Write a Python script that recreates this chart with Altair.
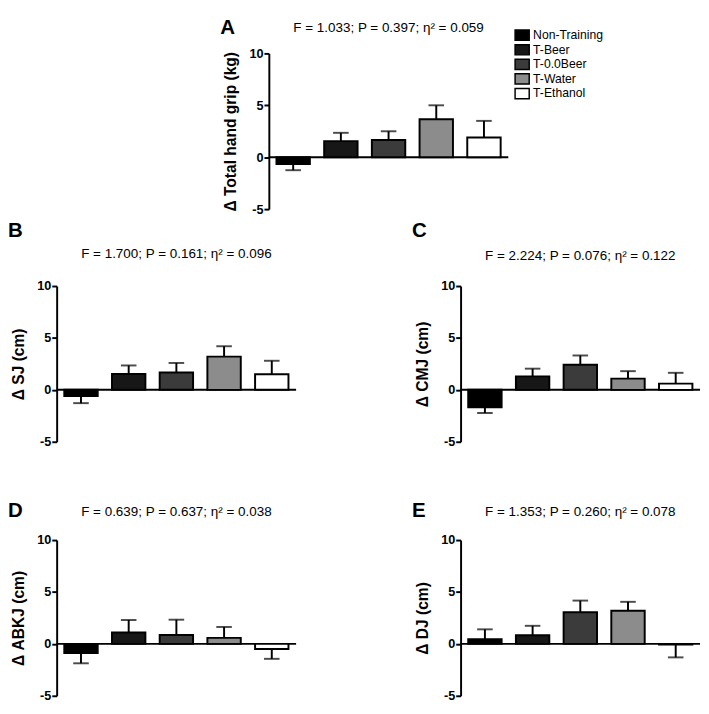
import altair as alt
import pandas as pd

groups = ["Non-Training", "T-Beer", "T-0.0Beer", "T-Water", "T-Ethanol"]
fills = ["#000000", "#171717", "#3b3b3b", "#8c8c8c", "#ffffff"]

# panel A: total hand grip
a_vals = [-0.65, 1.55, 1.65, 3.65, 1.9]
a_tips = [-1.25, 2.35, 2.5, 5.0, 3.5]
# panel B: SJ
b_vals = [-0.6, 1.52, 1.68, 3.2, 1.5]
b_tips = [-1.28, 2.35, 2.59, 4.2, 2.8]
# panel C: CMJ
c_vals = [-1.67, 1.3, 2.41, 1.08, 0.6]
c_tips = [-2.23, 2.04, 3.31, 1.8, 1.64]
# panel D: ABKJ
d_vals = [-0.89, 1.1, 0.86, 0.58, -0.49]
d_tips = [-1.87, 2.3, 2.33, 1.63, -1.44]
# panel E: DJ
e_vals = [0.44, 0.84, 3.05, 3.2, -0.05]
e_tips = [1.4, 1.74, 4.17, 4.05, -1.3]

y_ticks = [-5, 0, 5, 10]

W = 246
H = 160
FONT = "Liberation Sans"


def panel(vals, tips, ytitle, letter, stat, legend=None):
    df = pd.DataFrame({"group": groups, "val": vals, "tip": tips})
    base = alt.Chart(df)
    ys = alt.Scale(domain=[-5, 10], nice=False, zero=False)
    yaxis = alt.Axis(
        title=ytitle, values=y_ticks, grid=False, labelExpr="'' + datum.value",
        domainColor="black", domainWidth=2, tickColor="black", tickWidth=2,
        tickSize=5, labelPadding=1, labelFont=FONT, labelFontSize=13,
        labelFontWeight="bold", labelColor="black", titleFont=FONT,
        titleFontSize=16, titleFontWeight="bold", titleColor="black",
        titlePadding=11,
    )
    xs = alt.X("group:N", sort=groups, axis=None,
               scale=alt.Scale(paddingInner=0.3, paddingOuter=0.16))
    zero = alt.Chart(pd.DataFrame({"z": [0]})).mark_rule(
        color="black", strokeWidth=2
    ).encode(y=alt.Y("z:Q", scale=ys, axis=yaxis), x=alt.value(0), x2=alt.value(W))
    err = base.mark_rule(color="black", strokeWidth=2).encode(
        x=xs, y=alt.Y("val:Q", scale=ys, axis=yaxis), y2="tip:Q")
    cap = base.mark_tick(color="black", thickness=2, size=16).encode(
        x=xs, y=alt.Y("tip:Q", scale=ys, axis=yaxis))
    bars = base.mark_bar(stroke="black", strokeWidth=2).encode(
        x=xs, y=alt.Y("val:Q", scale=ys, axis=yaxis),
        fill=alt.Fill("group:N", sort=groups,
                      scale=alt.Scale(domain=groups, range=fills),
                      legend=legend))
    one = alt.Chart(pd.DataFrame({"t": [0]}))
    lab = one.mark_text(font=FONT, fontSize=21, fontWeight="bold", align="left",
                        baseline="alphabetic", color="black").encode(
        x=alt.value(-50), y=alt.value(letter[1]), text=alt.value(letter[0]))
    st = one.mark_text(font=FONT, fontSize=13.8, align="center",
                       baseline="alphabetic", color="black").encode(
        x=alt.value(W / 2), y=alt.value(stat[1]), text=alt.value(stat[0]))
    return alt.layer(zero, err, cap, bars, lab, st).properties(width=W, height=H)


legA = alt.Legend(
    title=None, orient="none", legendX=254, legendY=-25,
    symbolType="M-1.45,-1.05H1.45V1.05H-1.45Z", symbolSize=100,
    symbolStrokeColor="black", symbolStrokeWidth=1.5, labelFont=FONT,
    labelFontSize=12.5, labelColor="black", labelOffset=5, rowPadding=-5,
)

pA = panel(a_vals, a_tips, "Δ Total hand grip (kg)", ("A", -20),
           ("F = 1.033; P = 0.397; η² = 0.059", -22), legA)
pB = panel(b_vals, b_tips, "Δ SJ (cm)", ("B", -50),
           ("F = 1.700; P = 0.161; η² = 0.096", -29))
pC = panel(c_vals, c_tips, "Δ CMJ (cm)", ("C", -50),
           ("F = 2.224; P = 0.076; η² = 0.122", -27))
pD = panel(d_vals, d_tips, "Δ ABKJ (cm)", ("D", -24),
           ("F = 0.639; P = 0.637; η² = 0.038", -25))
pE = panel(e_vals, e_tips, "Δ DJ (cm)", ("E", -24),
           ("F = 1.353; P = 0.260; η² = 0.078", -25))

spacer = alt.Chart(pd.DataFrame({"s": [0]})).mark_point(opacity=0).encode(
    x=alt.X("s:Q", axis=None), y=alt.Y("s:Q", axis=None)
).properties(width=158, height=10)


def res(c):
    return c.resolve_scale(x="independent", y="independent", fill="independent").resolve_legend(fill="independent")


row1 = res(alt.hconcat(spacer, pA, spacing=10))
row2 = res(alt.hconcat(pB, pC, spacing=118))
row3 = res(alt.hconcat(pD, pE, spacing=118))
lower = res(alt.vconcat(row2, row3, spacing=53))

chart = res(alt.vconcat(row1, lower, spacing=5)).properties(
    padding=0
).configure_view(stroke=None)

chart.save("out.html", embed_options={"renderer": "svg", "actions": False})
